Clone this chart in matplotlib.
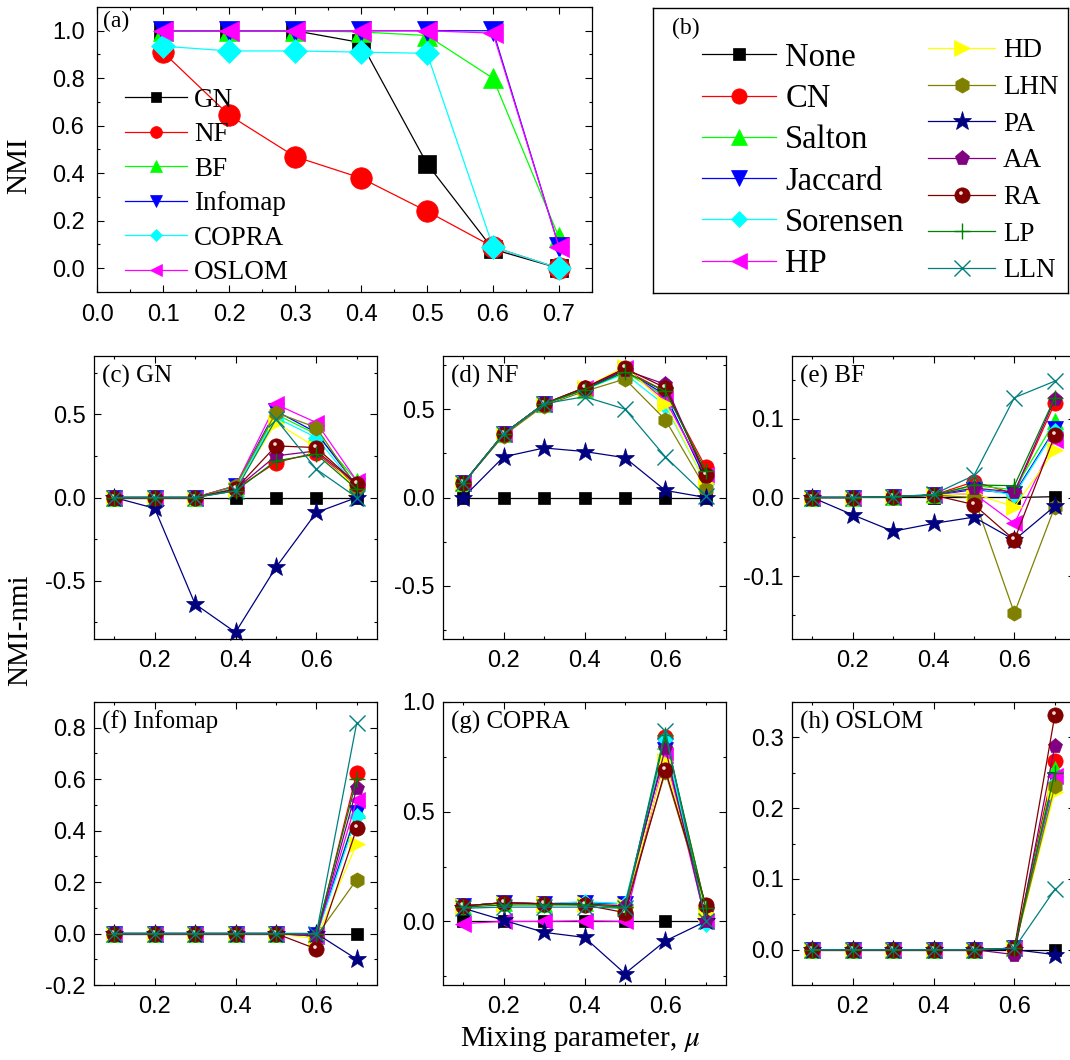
import numpy as np
import matplotlib
matplotlib.use("Agg")
import matplotlib.pyplot as plt
from matplotlib.ticker import MultipleLocator
from matplotlib.lines import Line2D
from matplotlib.path import Path
from matplotlib.legend_handler import HandlerTuple

plt.rcParams["font.family"] = ["Liberation Sans", "DejaVu Sans"]
plt.rcParams["mathtext.fontset"] = "stix"
plt.rcParams["axes.unicode_minus"] = False
SERIF = ["Liberation Serif", "DejaVu Serif"]

# ---------------------------------------------------------------- data
mu = [0.1, 0.2, 0.3, 0.4, 0.5, 0.6, 0.7]

# (a) NMI of each detection algorithm on the original networks
nmi_gn = [1.0, 1.0, 1.0, 0.95, 0.44, 0.08, 0.0]
nmi_nf = [0.91, 0.645, 0.47, 0.38, 0.24, 0.09, 0.0]
nmi_bf = [1.0, 1.0, 1.0, 0.995, 0.98, 0.80, 0.13]
nmi_infomap = [1.0, 1.0, 1.0, 1.0, 1.0, 1.0, 0.09]
nmi_copra = [0.935, 0.915, 0.915, 0.91, 0.905, 0.09, 0.0]
nmi_oslom = [1.0, 1.0, 1.0, 1.0, 1.0, 0.99, 0.09]

algorithms = ["GN", "NF", "BF", "Infomap", "COPRA", "OSLOM"]
methods = ["None", "CN", "Salton", "Jaccard", "Sorensen", "HP", "HD",
           "LHN", "PA", "AA", "RA", "LP", "LLN"]

# (c) GN: NMI gain per link-prediction index
gn_none = [0, 0, 0, 0, 0, 0, 0]
gn_cn = [0, 0, 0, 0.05, 0.21, 0.27, 0.07]
gn_salton = [0, 0, 0, 0.06, 0.50, 0.38, 0.10]
gn_jaccard = [0, 0, 0, 0.07, 0.52, 0.39, 0.07]
gn_sorensen = [0, 0, 0, 0.06, 0.48, 0.36, 0.06]
gn_hp = [0, 0, 0, 0.07, 0.56, 0.45, 0.10]
gn_hd = [0, 0, 0, 0.05, 0.45, 0.30, 0.05]
gn_lhn = [0, 0, 0, 0.07, 0.51, 0.42, 0.06]
gn_pa = [0, -0.065, -0.64, -0.81, -0.42, -0.09, 0]
gn_aa = [0, 0, 0, 0.05, 0.25, 0.28, 0.08]
gn_ra = [0, 0, 0, 0.05, 0.31, 0.30, 0.08]
gn_lp = [0, 0, 0, 0.04, 0.22, 0.26, 0.05]
gn_lln = [0, 0, 0, 0.04, 0.47, 0.17, 0.0]

# (d) NF
nf_none = [0, 0, 0, 0, 0, 0, 0]
nf_cn = [0.08, 0.36, 0.53, 0.62, 0.72, 0.60, 0.17]
nf_salton = [0.08, 0.36, 0.53, 0.61, 0.71, 0.57, 0.12]
nf_jaccard = [0.08, 0.36, 0.53, 0.61, 0.72, 0.58, 0.10]
nf_sorensen = [0.08, 0.36, 0.53, 0.61, 0.70, 0.52, 0.08]
nf_hp = [0.08, 0.36, 0.53, 0.62, 0.73, 0.55, 0.13]
nf_hd = [0.08, 0.36, 0.53, 0.62, 0.74, 0.53, 0.08]
nf_lhn = [0.08, 0.35, 0.52, 0.60, 0.67, 0.44, 0.05]
nf_pa = [0.0, 0.23, 0.28, 0.26, 0.225, 0.04, 0.0]
nf_aa = [0.08, 0.36, 0.53, 0.62, 0.72, 0.64, 0.12]
nf_ra = [0.08, 0.36, 0.53, 0.62, 0.73, 0.62, 0.125]
nf_lp = [0.08, 0.36, 0.53, 0.61, 0.71, 0.60, 0.15]
nf_lln = [0.08, 0.36, 0.53, 0.57, 0.50, 0.23, 0.01]

# (e) BF
bf_none = [0, 0, 0, 0, 0, 0, 0.001]
bf_cn = [0, 0, 0.001, 0.003, 0.02, 0.005, 0.12]
bf_salton = [0, 0, 0.001, 0.003, 0.015, 0.01, 0.097]
bf_jaccard = [0, 0, 0.001, 0.003, 0.01, 0.005, 0.087]
bf_sorensen = [0, 0, 0.001, 0.003, 0.012, 0.003, 0.085]
bf_hp = [0, 0, 0.001, 0.003, 0.005, -0.033, 0.073]
bf_hd = [0, 0, 0.001, 0.003, 0.005, -0.012, 0.06]
bf_lhn = [0, 0, 0.001, 0.003, 0.0, -0.147, -0.012]
bf_pa = [0, -0.022, -0.043, -0.033, -0.025, -0.054, -0.011]
bf_aa = [0, 0, 0.001, 0.003, 0.012, 0.007, 0.125]
bf_ra = [0, 0, 0.001, 0.003, -0.009, -0.054, 0.079]
bf_lp = [0, 0, 0.001, 0.003, 0.016, 0.015, 0.127]
bf_lln = [0, 0, 0.001, 0.004, 0.028, 0.127, 0.148]

# (f) Infomap
im_none = [0, 0, 0, 0, 0, 0, 0]
im_cn = [0, 0, 0, 0, 0, -0.01, 0.625]
im_salton = [0, 0, 0, 0, 0, -0.01, 0.48]
im_jaccard = [0, 0, 0, 0, 0, -0.005, 0.47]
im_sorensen = [0, 0, 0, 0, 0, -0.01, 0.455]
im_hp = [0, 0, 0, 0, 0, -0.01, 0.52]
im_hd = [0, 0, 0, 0, 0, -0.02, 0.35]
im_lhn = [0, 0, 0, 0, 0, -0.01, 0.21]
im_pa = [0, 0, 0, 0, 0, 0, -0.10]
im_aa = [0, 0, 0, 0, 0, -0.01, 0.565]
im_ra = [0, 0, 0, 0, 0, -0.06, 0.41]
im_lp = [0, 0, 0, 0, 0, 0, 0.60]
im_lln = [0, 0, 0, 0, 0, 0, 0.82]

# (g) COPRA
cp_none = [0, 0, 0, 0, 0, 0, 0]
cp_cn = [0.07, 0.085, 0.08, 0.08, 0.07, 0.84, 0.06]
cp_salton = [0.07, 0.085, 0.08, 0.085, 0.08, 0.82, 0.05]
cp_jaccard = [0.07, 0.085, 0.08, 0.085, 0.08, 0.78, 0.03]
cp_sorensen = [0.07, 0.085, 0.08, 0.09, 0.08, 0.83, -0.01]
cp_hp = [-0.01, 0.0, 0.0, 0.003, 0.0, 0.76, 0.0]
cp_hd = [0.07, 0.08, 0.08, 0.08, 0.07, 0.73, 0.04]
cp_lhn = [0.07, 0.085, 0.08, 0.08, 0.06, 0.68, 0.07]
cp_pa = [0.06, 0.005, -0.05, -0.073, -0.238, -0.089, 0.0]
cp_aa = [0.07, 0.085, 0.08, 0.08, 0.07, 0.79, 0.0]
cp_ra = [0.07, 0.085, 0.08, 0.075, 0.04, 0.69, 0.076]
cp_lp = [0.065, 0.075, 0.075, 0.075, 0.065, 0.85, 0.06]
cp_lln = [0.06, 0.065, 0.065, 0.065, 0.06, 0.87, 0.0]

# (h) OSLOM
os_none = [0, 0, 0, 0, 0, 0, 0]
os_cn = [0, 0, 0, 0, 0, 0.002, 0.266]
os_salton = [0, 0, 0, 0, 0, 0.002, 0.255]
os_jaccard = [0, 0, 0, 0, 0, 0.002, 0.24]
os_sorensen = [0, 0, 0, 0, 0, 0.002, 0.235]
os_hp = [0, 0, 0, 0, 0, 0.002, 0.245]
os_hd = [0, 0, 0, 0, 0, 0.002, 0.223]
os_lhn = [0, 0, 0, 0, 0, 0.002, 0.231]
os_pa = [0, 0, 0, 0, 0, 0, -0.007]
os_aa = [0, 0, 0, 0, 0, -0.007, 0.288]
os_ra = [0, 0, 0, 0, 0, 0.002, 0.331]
os_lp = [0, 0, 0, 0, 0, 0.002, 0.25]
os_lln = [0, 0, 0, 0, 0, 0.002, 0.085]

# ---------------------------------------------------------------- styles
method_colors = ["#000000", "#ff0000", "#00ff00", "#0000ff", "#00ffff",
                 "#ff00ff", "#ffff00", "#808000", "#000080", "#800080",
                 "#800000", "#008000", "#008080"]
method_markers = ["s", "o", "^", "v", "D", "<", ">", "h", "*", "p", "o", "+", "x"]
method_sizes = [9, 11, 11, 11, 8, 11, 11, 11, 14, 11, 11, 12, 12]

algo_colors = ["#000000", "#ff0000", "#00ff00", "#0000ff", "#00ffff", "#ff00ff"]
algo_markers = ["s", "o", "^", "v", "D", "<"]
algo_sizes = [13, 15.5, 15, 15, 12, 15]


def glint_marker():
    """Small off-centre spot that gives the RA markers a shaded-ball look."""
    t = np.linspace(0, 2 * np.pi, 30)
    cx, cy, r = -0.1, 0.16, 0.12
    verts = [(0.5, 0.5)] + list(zip(cx + r * np.cos(t), cy + r * np.sin(t)))
    codes = [Path.MOVETO, Path.MOVETO] + [Path.LINETO] * (len(t) - 2) + [Path.CLOSEPOLY]
    return Path(verts, codes)


GLINT = glint_marker()


def style_ticks(ax, size=17):
    ax.tick_params(which="both", direction="in", top=True, right=True,
                   width=0.8, labelsize=size)
    ax.tick_params(which="major", length=5)
    ax.tick_params(which="minor", length=2.5)
    for s in ax.spines.values():
        s.set_linewidth(0.9)


W, H = 1070, 1060
fig = plt.figure(figsize=(W / 100, H / 100), dpi=100)


def px_axes(left, top, right, bottom):
    return fig.add_axes([left / W, 1 - bottom / H, (right - left) / W, (bottom - top) / H])


# ---------------------------------------------------------------- panel (a)
ax_a = px_axes(97, 7, 592, 292)
a_series = [nmi_gn, nmi_nf, nmi_bf, nmi_infomap, nmi_copra, nmi_oslom]
for name, y, c, m, s in zip(algorithms, a_series, algo_colors, algo_markers, algo_sizes):
    ax_a.plot(mu, y, color=c, lw=0.9, marker=m, ms=s, mfc=c, mec=c, mew=0.5, label=name)
ax_a.set_xlim(0, 0.75)
ax_a.set_ylim(-0.1, 1.1)
ax_a.xaxis.set_major_locator(MultipleLocator(0.1))
ax_a.xaxis.set_minor_locator(MultipleLocator(0.05))
ax_a.yaxis.set_major_locator(MultipleLocator(0.2))
ax_a.yaxis.set_minor_locator(MultipleLocator(0.1))
style_ticks(ax_a)
ax_a.tick_params(axis="x", pad=9)
ax_a.tick_params(axis="y", pad=9)
ax_a.set_ylabel("NMI", family=SERIF, fontsize=21)
ax_a.yaxis.set_label_coords(-0.131, 0.442)
ax_a.text(0.012, 0.985, "(a)", transform=ax_a.transAxes, ha="left", va="top",
          family=SERIF, fontsize=17)
ax_a.legend(loc="upper left", bbox_to_anchor=(0.056, 0.716), frameon=False,
            prop={"family": SERIF, "size": 19.5}, markerscale=0.55,
            handlelength=2.3, handletextpad=0.26, labelspacing=0.35,
            borderpad=0, borderaxespad=0)

# ---------------------------------------------------------------- panel (b): shared key
ax_b = px_axes(653, 8, 1068, 293)
ax_b.set_xticks([])
ax_b.set_yticks([])
for s in ax_b.spines.values():
    s.set_linewidth(1.0)
ax_b.text(0.045, 0.965, "(b)", transform=ax_b.transAxes, ha="left", va="top",
          family=SERIF, fontsize=17)

key_handles = []
for name, c, m, s in zip(methods, method_colors, method_markers, method_sizes):
    h = Line2D([], [], color=c, lw=0.9, marker=m, ms=s, mfc=c, mec=c,
               mew=1.0 if m in "+x" else 0.5)
    if name == "RA":
        g = Line2D([], [], ls="none", marker=GLINT, ms=s, mfc="#f4dcdc", mec="none")
        h = (h, g)
    key_handles.append(h)

tuple_map = {tuple: HandlerTuple(ndivide=1)}
leg1 = ax_b.legend(key_handles[:6], methods[:6], loc="upper left",
                   bbox_to_anchor=(0.118, 0.88), frameon=False,
                   prop={"family": SERIF, "size": 23.5},
                   handlelength=2.27, handletextpad=0.28, labelspacing=0.33,
                   borderpad=0, borderaxespad=0, handler_map=tuple_map)
ax_b.add_artist(leg1)
ax_b.legend(key_handles[6:], methods[6:], loc="upper left",
            bbox_to_anchor=(0.663, 0.893), frameon=False,
            prop={"family": SERIF, "size": 19.5},
            handlelength=2.47, handletextpad=0.3, labelspacing=0.43,
            borderpad=0, borderaxespad=0, handler_map=tuple_map)

# ---------------------------------------------------------------- panels (c)-(h)
panel_tables = [
    ("(c) GN", [gn_none, gn_cn, gn_salton, gn_jaccard, gn_sorensen, gn_hp, gn_hd,
                gn_lhn, gn_pa, gn_aa, gn_ra, gn_lp, gn_lln],
     (-0.85, 0.85), 0.5, 0.25),
    ("(d) NF", [nf_none, nf_cn, nf_salton, nf_jaccard, nf_sorensen, nf_hp, nf_hd,
                nf_lhn, nf_pa, nf_aa, nf_ra, nf_lp, nf_lln],
     (-0.8, 0.8), 0.5, 0.25),
    ("(e) BF", [bf_none, bf_cn, bf_salton, bf_jaccard, bf_sorensen, bf_hp, bf_hd,
                bf_lhn, bf_pa, bf_aa, bf_ra, bf_lp, bf_lln],
     (-0.18, 0.18), 0.1, 0.05),
    ("(f) Infomap", [im_none, im_cn, im_salton, im_jaccard, im_sorensen, im_hp, im_hd,
                     im_lhn, im_pa, im_aa, im_ra, im_lp, im_lln],
     (-0.2, 0.9), 0.2, 0.1),
    ("(g) COPRA", [cp_none, cp_cn, cp_salton, cp_jaccard, cp_sorensen, cp_hp, cp_hd,
                   cp_lhn, cp_pa, cp_aa, cp_ra, cp_lp, cp_lln],
     (-0.29, 1.0), 0.5, 0.25),
    ("(h) OSLOM", [os_none, os_cn, os_salton, os_jaccard, os_sorensen, os_hp, os_hd,
                   os_lhn, os_pa, os_aa, os_ra, os_lp, os_lln],
     (-0.05, 0.35), 0.1, 0.05),
]

col_left = [94, 443, 792]
row_top = [356, 702]
panel_w, panel_h = 283, 283

for i, (title, series, ylim, major, minor) in enumerate(panel_tables):
    r, c = divmod(i, 3)
    left, top = col_left[c], row_top[r]
    ax = px_axes(left, top, left + panel_w, top + panel_h)
    for name, y, col, m, s in zip(methods, series, method_colors, method_markers, method_sizes):
        ax.plot(mu, y, color=col, lw=0.9, marker=m, ms=s, mfc=col, mec=col,
                mew=1.0 if m in "+x" else 0.5, clip_on=False)
        if name == "RA":
            ax.plot(mu, y, ls="none", marker=GLINT, ms=s, mfc="#f4dcdc", mec="none",
                    clip_on=False)
    ax.set_xlim(0.05, 0.75)
    ax.set_ylim(*ylim)
    ax.xaxis.set_major_locator(MultipleLocator(0.2))
    ax.xaxis.set_minor_locator(MultipleLocator(0.1))
    ax.yaxis.set_major_locator(MultipleLocator(major))
    ax.yaxis.set_minor_locator(MultipleLocator(minor))
    style_ticks(ax)
    ax.tick_params(axis="x", pad=8)
    ax.tick_params(axis="y", pad=6)
    ax.text(0.03, 0.97, title, transform=ax.transAxes, ha="left", va="top",
            family=SERIF, fontsize=18)

fig.text(20 / W, 1 - 630 / H, "NMI-nmi", rotation=90, ha="center", va="center",
         family=SERIF, fontsize=21)
fig.text(580 / W, 1 - 1040 / H, r"Mixing parameter, $\mu$", ha="center", va="center",
         family=SERIF, fontsize=21)

fig.savefig("out.png", dpi=100)
